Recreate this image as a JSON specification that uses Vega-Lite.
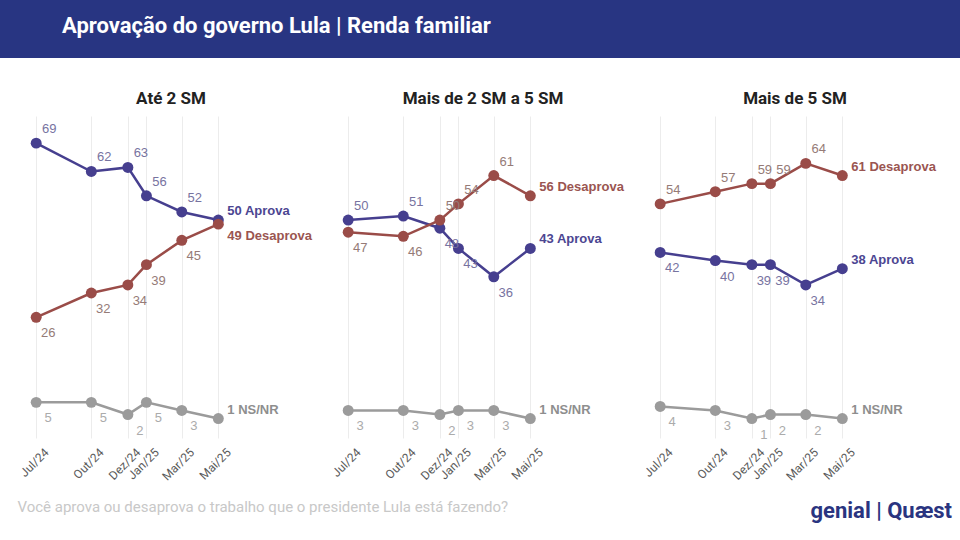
{
  "$schema": "https://vega.github.io/schema/vega-lite/v6.json",
  "description": "Aprovação do governo Lula por renda familiar, três painéis com Aprova, Desaprova e NS/NR.",
  "background": "white",
  "padding": 0,
  "config": {
    "view": {"stroke": null},
    "font": "Roboto"
  },
  "datasets": {
    "pesquisa": [
      {"painel": "Até 2 SM", "serie": "Aprova", "data": "2024-07-01", "valor": 69},
      {"painel": "Até 2 SM", "serie": "Aprova", "data": "2024-10-01", "valor": 62},
      {"painel": "Até 2 SM", "serie": "Aprova", "data": "2024-12-01", "valor": 63},
      {"painel": "Até 2 SM", "serie": "Aprova", "data": "2025-01-01", "valor": 56},
      {"painel": "Até 2 SM", "serie": "Aprova", "data": "2025-03-01", "valor": 52},
      {"painel": "Até 2 SM", "serie": "Aprova", "data": "2025-05-01", "valor": 50},
      {"painel": "Até 2 SM", "serie": "Desaprova", "data": "2024-07-01", "valor": 26},
      {"painel": "Até 2 SM", "serie": "Desaprova", "data": "2024-10-01", "valor": 32},
      {"painel": "Até 2 SM", "serie": "Desaprova", "data": "2024-12-01", "valor": 34},
      {"painel": "Até 2 SM", "serie": "Desaprova", "data": "2025-01-01", "valor": 39},
      {"painel": "Até 2 SM", "serie": "Desaprova", "data": "2025-03-01", "valor": 45},
      {"painel": "Até 2 SM", "serie": "Desaprova", "data": "2025-05-01", "valor": 49},
      {"painel": "Até 2 SM", "serie": "NS/NR", "data": "2024-07-01", "valor": 5},
      {"painel": "Até 2 SM", "serie": "NS/NR", "data": "2024-10-01", "valor": 5},
      {"painel": "Até 2 SM", "serie": "NS/NR", "data": "2024-12-01", "valor": 2},
      {"painel": "Até 2 SM", "serie": "NS/NR", "data": "2025-01-01", "valor": 5},
      {"painel": "Até 2 SM", "serie": "NS/NR", "data": "2025-03-01", "valor": 3},
      {"painel": "Até 2 SM", "serie": "NS/NR", "data": "2025-05-01", "valor": 1},
      {"painel": "Mais de 2 SM a 5 SM", "serie": "Aprova", "data": "2024-07-01", "valor": 50},
      {"painel": "Mais de 2 SM a 5 SM", "serie": "Aprova", "data": "2024-10-01", "valor": 51},
      {"painel": "Mais de 2 SM a 5 SM", "serie": "Aprova", "data": "2024-12-01", "valor": 48},
      {"painel": "Mais de 2 SM a 5 SM", "serie": "Aprova", "data": "2025-01-01", "valor": 43},
      {"painel": "Mais de 2 SM a 5 SM", "serie": "Aprova", "data": "2025-03-01", "valor": 36},
      {"painel": "Mais de 2 SM a 5 SM", "serie": "Aprova", "data": "2025-05-01", "valor": 43},
      {"painel": "Mais de 2 SM a 5 SM", "serie": "Desaprova", "data": "2024-07-01", "valor": 47},
      {"painel": "Mais de 2 SM a 5 SM", "serie": "Desaprova", "data": "2024-10-01", "valor": 46},
      {"painel": "Mais de 2 SM a 5 SM", "serie": "Desaprova", "data": "2024-12-01", "valor": 50},
      {"painel": "Mais de 2 SM a 5 SM", "serie": "Desaprova", "data": "2025-01-01", "valor": 54},
      {"painel": "Mais de 2 SM a 5 SM", "serie": "Desaprova", "data": "2025-03-01", "valor": 61},
      {"painel": "Mais de 2 SM a 5 SM", "serie": "Desaprova", "data": "2025-05-01", "valor": 56},
      {"painel": "Mais de 2 SM a 5 SM", "serie": "NS/NR", "data": "2024-07-01", "valor": 3},
      {"painel": "Mais de 2 SM a 5 SM", "serie": "NS/NR", "data": "2024-10-01", "valor": 3},
      {"painel": "Mais de 2 SM a 5 SM", "serie": "NS/NR", "data": "2024-12-01", "valor": 2},
      {"painel": "Mais de 2 SM a 5 SM", "serie": "NS/NR", "data": "2025-01-01", "valor": 3},
      {"painel": "Mais de 2 SM a 5 SM", "serie": "NS/NR", "data": "2025-03-01", "valor": 3},
      {"painel": "Mais de 2 SM a 5 SM", "serie": "NS/NR", "data": "2025-05-01", "valor": 1},
      {"painel": "Mais de 5 SM", "serie": "Aprova", "data": "2024-07-01", "valor": 42},
      {"painel": "Mais de 5 SM", "serie": "Aprova", "data": "2024-10-01", "valor": 40},
      {"painel": "Mais de 5 SM", "serie": "Aprova", "data": "2024-12-01", "valor": 39},
      {"painel": "Mais de 5 SM", "serie": "Aprova", "data": "2025-01-01", "valor": 39},
      {"painel": "Mais de 5 SM", "serie": "Aprova", "data": "2025-03-01", "valor": 34},
      {"painel": "Mais de 5 SM", "serie": "Aprova", "data": "2025-05-01", "valor": 38},
      {"painel": "Mais de 5 SM", "serie": "Desaprova", "data": "2024-07-01", "valor": 54},
      {"painel": "Mais de 5 SM", "serie": "Desaprova", "data": "2024-10-01", "valor": 57},
      {"painel": "Mais de 5 SM", "serie": "Desaprova", "data": "2024-12-01", "valor": 59},
      {"painel": "Mais de 5 SM", "serie": "Desaprova", "data": "2025-01-01", "valor": 59},
      {"painel": "Mais de 5 SM", "serie": "Desaprova", "data": "2025-03-01", "valor": 64},
      {"painel": "Mais de 5 SM", "serie": "Desaprova", "data": "2025-05-01", "valor": 61},
      {"painel": "Mais de 5 SM", "serie": "NS/NR", "data": "2024-07-01", "valor": 4},
      {"painel": "Mais de 5 SM", "serie": "NS/NR", "data": "2024-10-01", "valor": 3},
      {"painel": "Mais de 5 SM", "serie": "NS/NR", "data": "2024-12-01", "valor": 1},
      {"painel": "Mais de 5 SM", "serie": "NS/NR", "data": "2025-01-01", "valor": 2},
      {"painel": "Mais de 5 SM", "serie": "NS/NR", "data": "2025-03-01", "valor": 2},
      {"painel": "Mais de 5 SM", "serie": "NS/NR", "data": "2025-05-01", "valor": 1}
    ]
  },
  "title": {
    "text": "genial  |  Quæst",
    "orient": "bottom",
    "anchor": "end",
    "dx": -12,
    "dy": -18,
    "fontSize": 22,
    "fontWeight": "bold",
    "color": "#2a3480",
    "font": "Roboto"
  },
  "spacing": 32,
  "vconcat": [
    {
      "width": 964,
      "height": 58,
      "view": {"fill": "#283582", "stroke": null},
      "title": {
        "text": "Aprovação do governo Lula | Renda familiar",
        "anchor": "start",
        "dx": 62,
        "dy": 42,
        "color": "white",
        "fontSize": 22,
        "fontWeight": "bold",
        "font": "Roboto"
      },
      "data": {"values": [{"vazio": ""}]},
      "mark": {"type": "text"},
      "encoding": {"text": {"field": "vazio"}}
    },
    {
      "spacing": 9,
      "hconcat": [
        {
          "width": 8,
          "height": 1,
          "data": {"values": [{"vazio": ""}]},
          "mark": {"type": "text"},
          "encoding": {"text": {"field": "vazio"}}
        },
        {
          "data": {"name": "pesquisa"},
          "title": {
            "text": "Você aprova ou desaprova o trabalho que o presidente Lula está fazendo?",
            "orient": "bottom",
            "anchor": "start",
            "dx": 0,
            "offset": 18,
            "fontSize": 15,
            "fontWeight": "normal",
            "color": "#c8c8c8",
            "font": "Roboto"
          },
          "facet": {
            "column": {
              "field": "painel",
              "type": "nominal",
              "sort": ["Até 2 SM", "Mais de 2 SM a 5 SM", "Mais de 5 SM"],
              "header": {
                "title": null,
                "labelFontSize": 17,
                "labelFontWeight": "bold",
                "labelColor": "#222222",
                "labelFont": "Roboto",
                "labelPadding": 8
              }
            }
          },
          "spacing": 22,
          "spec": {
            "width": 290,
            "height": 322,
            "transform": [
              {"joinaggregate": [{"op": "max", "field": "valor", "as": "maximo"}], "groupby": ["painel", "data"]},
              {"calculate": "datum.serie != 'NS/NR' && datum.valor == datum.maximo", "as": "acima"},
              {"calculate": "datum.serie != 'NS/NR' && datum.valor < datum.maximo && datum.maximo - datum.valor < 5", "as": "colado"},
              {"calculate": "utcyear(datum.data) == 2025 && utcmonth(datum.data) == 4", "as": "ultimo"},
              {"calculate": "datum.valor + ' ' + datum.serie", "as": "rotulo"}
            ],
            "encoding": {
              "x": {
                "field": "data",
                "type": "temporal",
                "scale": {
                  "type": "utc",
                  "domain": [
                    {"year": 2024, "month": 6, "date": 14, "utc": true},
                    {"year": 2025, "month": 10, "date": 11, "utc": true}
                  ]
                },
                "axis": {
                  "title": null,
                  "values": [
                    {"year": 2024, "month": 7, "date": 1, "utc": true},
                    {"year": 2024, "month": 10, "date": 1, "utc": true},
                    {"year": 2024, "month": 12, "date": 1, "utc": true},
                    {"year": 2025, "month": 1, "date": 1, "utc": true},
                    {"year": 2025, "month": 3, "date": 1, "utc": true},
                    {"year": 2025, "month": 5, "date": 1, "utc": true}
                  ],
                  "labelExpr": "['Jan','Fev','Mar','Abr','Mai','Jun','Jul','Ago','Set','Out','Nov','Dez'][utcmonth(datum.value)] + '/' + utcFormat(datum.value, '%y')",
                  "labelOverlap": false,
                  "grid": true,
                  "gridColor": "#ececec",
                  "domain": false,
                  "ticks": false,
                  "labelAngle": -45,
                  "labelAlign": "right",
                  "labelBaseline": "middle",
                  "labelOffset": 10,
                  "labelColor": "#5a5a5a",
                  "labelFontSize": 12,
                  "labelFont": "Roboto",
                  "labelPadding": 8
                }
              },
              "y": {
                "field": "valor",
                "type": "quantitative",
                "scale": {"domain": [-3.8, 75.7], "nice": false, "zero": false},
                "axis": null
              }
            },
            "layer": [
              {
                "mark": {"type": "line", "strokeWidth": 2.5},
                "encoding": {
                  "color": {
                    "field": "serie",
                    "type": "nominal",
                    "scale": {"domain": ["Aprova", "Desaprova", "NS/NR"], "range": ["#463f8f", "#9a4c48", "#9b9b9b"]},
                    "legend": null
                  }
                }
              },
              {
                "mark": {"type": "circle", "size": 120, "opacity": 1},
                "encoding": {
                  "color": {"field": "serie", "type": "nominal", "legend": null}
                }
              },
              {
                "transform": [{"filter": "!datum.ultimo && datum.acima"}],
                "mark": {"type": "text", "dx": 13, "dy": -14, "fontSize": 13, "font": "Liberation Sans"},
                "encoding": {
                  "text": {"field": "valor", "type": "quantitative"},
                  "color": {
                    "condition": [
                      {"test": "datum.serie == 'Aprova'", "value": "#77739f"},
                      {"test": "datum.serie == 'Desaprova'", "value": "#957b77"}
                    ],
                    "value": "#ababab"
                  }
                }
              },
              {
                "transform": [{"filter": "!datum.ultimo && !datum.acima"}],
                "mark": {"type": "text", "dx": 12, "dy": 16, "fontSize": 13, "font": "Liberation Sans"},
                "encoding": {
                  "text": {"field": "valor", "type": "quantitative"},
                  "color": {
                    "condition": [
                      {"test": "datum.serie == 'Aprova'", "value": "#77739f"},
                      {"test": "datum.serie == 'Desaprova'", "value": "#957b77"}
                    ],
                    "value": "#ababab"
                  }
                }
              },
              {
                "transform": [{"filter": "datum.ultimo && !datum.colado"}],
                "mark": {"type": "text", "align": "left", "dx": 9, "dy": -9, "fontSize": 13, "fontWeight": "bold", "font": "Liberation Sans"},
                "encoding": {
                  "text": {"field": "rotulo"},
                  "color": {
                    "condition": [
                      {"test": "datum.serie == 'Aprova'", "value": "#4c4692"},
                      {"test": "datum.serie == 'Desaprova'", "value": "#9a5551"}
                    ],
                    "value": "#8e8e8e"
                  }
                }
              },
              {
                "transform": [{"filter": "datum.ultimo && datum.colado"}],
                "mark": {"type": "text", "align": "left", "dx": 9, "dy": 12, "fontSize": 13, "fontWeight": "bold", "font": "Liberation Sans"},
                "encoding": {
                  "text": {"field": "rotulo"},
                  "color": {
                    "condition": [
                      {"test": "datum.serie == 'Aprova'", "value": "#4c4692"},
                      {"test": "datum.serie == 'Desaprova'", "value": "#9a5551"}
                    ],
                    "value": "#8e8e8e"
                  }
                }
              }
            ]
          }
        }
      ]
    }
  ]
}
